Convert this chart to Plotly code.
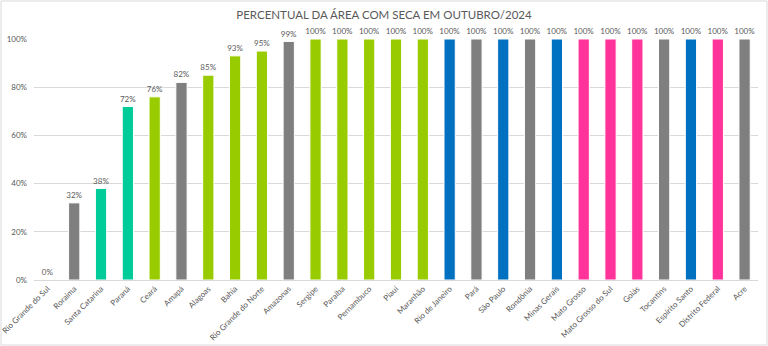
import plotly.graph_objects as go

states = ["Rio Grande do Sul", "Roraima", "Santa Catarina", "Paraná", "Ceará", "Amapá",
          "Alagoas", "Bahia", "Rio Grande do Norte", "Amazonas", "Sergipe", "Paraíba",
          "Pernambuco", "Piauí", "Maranhão", "Rio de Janeiro", "Pará", "São Paulo",
          "Rondônia", "Minas Gerais", "Mato Grosso", "Mato Grosso do Sul", "Goiás",
          "Tocantins", "Espírito Santo", "Distrito Federal", "Acre"]
values = [0.00, 0.32, 0.38, 0.72, 0.76, 0.82, 0.85, 0.93, 0.95, 0.99, 1.00, 1.00, 1.00, 1.00,
          1.00, 1.00, 1.00, 1.00, 1.00, 1.00, 1.00, 1.00, 1.00, 1.00, 1.00, 1.00, 1.00]
groups = ["gray", "gray", "teal", "teal", "lime", "gray", "lime", "lime", "lime", "gray",
          "lime", "lime", "lime", "lime", "lime", "blue", "gray", "blue", "gray", "blue",
          "pink", "pink", "pink", "gray", "blue", "pink", "gray"]
palette = {"gray": "#7F7F7F", "teal": "#00CC99", "lime": "#99CC00",
           "blue": "#0070C0", "pink": "#FF3399"}

fig = go.Figure(go.Bar(
    x=states, y=values,
    marker=dict(color=[palette[g] for g in groups], line=dict(color="white", width=1)),
    width=0.42,
    text=[f"{round(v*100)}%" for v in values],
    textposition="outside",
    textfont=dict(size=8.5, color="#595959"),
    cliponaxis=False,
))

W, H = 768, 346
ml, mr, mt, mb = 34, 10, 39, 66
pw, ph = W - ml - mr, H - mt - mb
fig.add_shape(type="rect", xref="paper", yref="paper",
              x0=(1 - ml) / pw, x1=1 + (mr - 1) / pw,
              y0=-(mb - 1) / ph, y1=1 + (mt - 1) / ph,
              line=dict(color="#D9D9D9", width=1), layer="below")

fig.update_layout(
    width=W, height=H,
    margin=dict(l=ml, r=mr, t=mt, b=mb, autoexpand=False),
    paper_bgcolor="white", plot_bgcolor="white",
    font=dict(family="Lato", color="#595959"),
    title=dict(text="PERCENTUAL DA ÁREA COM SECA EM OUTUBRO/2024", x=0.5, xref="container",
               xanchor="center", y=1 - 15 / H, yanchor="middle",
               font=dict(size=11.5, color="#595959")),
    showlegend=False,
    uniformtext=dict(minsize=7, mode="show"),
)
fig.update_yaxes(range=[0, 1], tickformat=".0%", dtick=0.2, tickfont=dict(size=8, color="#595959"),
                 gridcolor="#D9D9D9", gridwidth=1, zeroline=False, showline=False,
                 ticks="", ticklabelstandoff=6, automargin=False)
fig.update_xaxes(tickangle=-45, tickfont=dict(size=8, color="#595959"), showline=True,
                 linecolor="#D9D9D9", linewidth=1, ticks="", range=[-0.5, 26.5],
                 automargin=False)

fig.write_html("out.html")
